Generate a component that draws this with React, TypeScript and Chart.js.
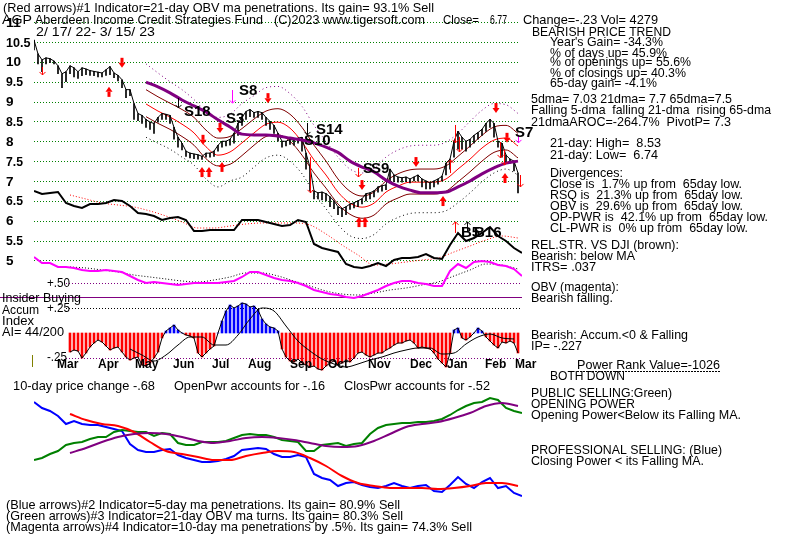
import React, { useEffect, useRef } from 'react';
import { Chart, registerables } from 'chart.js';
Chart.register(...registerables);

// x unit = one slot of about two trading days (2/17/22 .. 3/15/23)
const priceHigh = [10.55,10.2,10.05,10.1,10.08,10.02,9.9,9.7,9.75,9.9,
9.85,9.75,9.85,9.82,9.78,9.76,9.74,9.72,9.8,9.88,
9.72,9.66,9.55,9.3,9.3,8.95,8.7,8.65,8.55,8.48,
8.45,8.6,8.7,8.68,8.65,8.35,8.1,7.95,7.75,7.7,
7.68,7.66,7.62,7.7,7.7,7.75,7.9,8.0,8.0,8.05,
8.2,8.45,8.6,8.75,8.8,8.72,8.75,8.72,8.6,8.5,
8.4,8.2,8.0,8.0,8.05,8.02,8.08,8.1,7.7,7.35,
6.75,6.7,6.72,6.68,6.6,6.5,6.35,6.3,6.35,6.42,
6.45,6.5,6.55,6.68,6.7,6.75,6.85,6.88,6.9,7.3,
7.15,7.1,7.08,7.1,7.05,7.1,7.15,7.05,7.0,6.95,
7.0,7.05,7.12,7.45,7.55,8.0,8.25,8.1,8.0,8.05,
8.15,8.22,8.3,8.45,8.55,8.45,8.0,7.95,7.65,7.55,
7.5,7.2];
const priceLow = [10.3,9.95,9.75,9.95,9.98,9.95,9.7,9.35,9.5,9.7,
9.62,9.58,9.65,9.68,9.66,9.65,9.62,9.62,9.66,9.68,
9.6,9.52,9.35,9.1,9.15,8.55,8.52,8.45,8.35,8.3,
8.2,8.48,8.55,8.55,8.45,8.05,7.85,7.78,7.62,7.58,
7.56,7.55,7.54,7.6,7.6,7.62,7.75,7.85,7.88,7.9,
7.95,8.15,8.4,8.55,8.62,8.6,8.6,8.55,8.4,8.3,
8.2,8.0,7.85,7.88,7.92,7.9,7.95,7.75,7.3,6.75,
6.55,6.55,6.52,6.5,6.35,6.3,6.15,6.1,6.15,6.28,
6.32,6.35,6.42,6.5,6.55,6.6,6.72,6.74,6.78,6.95,
6.98,6.97,6.97,6.98,6.95,7.0,7.0,6.85,6.8,6.8,
6.85,6.92,7.0,7.15,7.3,7.6,7.8,7.8,7.75,7.85,
7.95,8.05,8.15,8.25,8.35,8.1,7.85,7.6,7.45,7.45,
7.25,6.7];

// moving-average bands (start slot 28, every 3 slots)
const ma21 = [8.94,8.76,8.61,8.43,8.21,7.86,7.65,7.73,7.96,8.21,8.43,8.48,8.33,7.98,7.53,7.15,6.72,6.44,6.34,6.44,6.72,6.87,6.97,6.97,6.97,7.05,7.3,7.55,7.83,8.03,8.08,7.88];
const bandUpper = [9.3,9.12,8.96,8.8,8.6,8.28,8.08,8.12,8.32,8.56,8.76,8.82,8.68,8.35,7.9,7.5,7.05,6.74,6.62,6.72,7.0,7.18,7.28,7.3,7.3,7.38,7.62,7.88,8.15,8.36,8.4,8.2];
const bandLower = [8.62,8.45,8.3,8.12,7.9,7.56,7.38,7.42,7.64,7.9,8.12,8.16,8.0,7.65,7.2,6.82,6.42,6.16,6.06,6.14,6.42,6.57,6.67,6.67,6.67,6.74,6.98,7.23,7.5,7.72,7.78,7.58];
const outerUpper = [9.95,9.72,9.5,9.3,9.05,8.75,8.6,8.68,8.95,9.15,9.35,9.38,9.2,8.88,8.4,8.0,7.6,7.3,7.2,7.32,7.6,7.78,7.88,7.9,7.9,7.98,8.2,8.5,8.78,8.95,8.92,8.7];
const outerLower = [8.1,7.95,7.8,7.6,7.4,7.05,6.85,7.0,7.1,7.35,7.58,7.65,7.5,7.18,6.7,6.3,5.9,5.62,5.55,5.65,5.92,6.08,6.18,6.2,6.2,6.25,6.45,6.7,6.98,7.2,7.3,7.15];
const ma65 = [9.49,9.37,9.22,9.04,8.89,8.74,8.54,8.36,8.18,8.16,8.16,8.13,8.08,8.03,7.96,7.85,7.72,7.5,7.35,7.23,7.02,6.87,6.77,6.7,6.7,6.72,6.85,7.0,7.18,7.33,7.45,7.5];

// relative strength vs DJI and OBV (every 2 slots from slot 0)
const relStr = [1.09,1.06,1.07,1.08,0.97,0.94,0.92,0.96,0.96,0.97,1.0,0.99,0.94,0.87,0.86,0.84,0.8,0.82,0.83,0.8,0.69,0.69,0.7,0.7,0.7,0.7,0.8,0.8,0.8,0.78,0.76,0.74,0.75,0.8,0.78,0.56,0.52,0.5,0.48,0.36,0.33,0.32,0.34,0.37,0.34,0.4,0.42,0.42,0.43,0.46,0.42,0.41,0.55,0.67,0.59,0.62,0.67,0.73,0.64,0.59,0.52,0.47];
const relStrMa = [1.05,1.01,0.97,0.95,0.93,0.89,0.84,0.78,0.72,0.72,0.74,0.76,0.77,0.77,0.77,0.75,0.66,0.55,0.45,0.35,0.36,0.38,0.4,0.42,0.48,0.54,0.6,0.64,0.62];
const obv = [0.43,0.37,0.37,0.33,0.33,0.32,0.3,0.29,0.29,0.3,0.29,0.28,0.24,0.2,0.17,0.18,0.17,0.16,0.15,0.16,0.17,0.17,0.17,0.17,0.18,0.19,0.23,0.28,0.28,0.25,0.22,0.2,0.19,0.17,0.14,0.1,0.08,0.06,0.05,0.03,0.02,0.04,0.07,0.1,0.14,0.17,0.19,0.19,0.17,0.16,0.14,0.14,0.29,0.36,0.32,0.38,0.39,0.38,0.35,0.34,0.31,0.24];
const obvMa = [0.33,0.32,0.3,0.28,0.25,0.23,0.21,0.19,0.18,0.2,0.23,0.27,0.27,0.24,0.19,0.14,0.09,0.06,0.05,0.07,0.1,0.12,0.15,0.18,0.24,0.3,0.36,0.35,0.31];

// accumulation index (from slot 9, every slot) and its MA (from slot 24, every 3)
const accum = [-0.19,-0.17,-0.18,-0.25,-0.2,-0.14,-0.1,-0.07,-0.09,-0.13,
-0.17,-0.15,-0.14,-0.19,-0.24,-0.27,-0.25,-0.24,-0.32,-0.33,
-0.3,-0.25,-0.19,-0.05,0.02,0.05,0.08,0.03,0.0,-0.02,
-0.03,-0.05,-0.2,-0.24,-0.2,-0.16,-0.13,0.0,0.12,0.22,
0.28,0.25,0.27,0.3,0.29,0.26,0.27,0.23,0.14,0.09,
0.06,0.05,0.02,-0.16,-0.24,-0.28,-0.29,-0.26,-0.3,-0.32,
-0.34,-0.33,-0.36,-0.37,-0.33,-0.3,-0.28,-0.32,-0.3,-0.27,
-0.29,-0.25,-0.2,-0.19,-0.22,-0.24,-0.22,-0.2,-0.2,-0.17,
-0.15,-0.12,-0.1,-0.1,-0.08,-0.07,-0.1,-0.15,-0.14,-0.15,
-0.16,-0.2,-0.26,-0.3,-0.34,-0.2,0.03,0.05,-0.05,-0.07,
-0.04,0.0,0.05,0.02,-0.04,-0.08,-0.12,-0.15,-0.09,-0.1,
-0.08,-0.1,-0.2];
const accumMa = [-0.16,-0.22,-0.28,-0.22,-0.12,-0.04,-0.04,-0.12,-0.12,-0.02,0.14,0.25,0.22,0.07,-0.08,-0.18,-0.26,-0.31,-0.34,-0.31,-0.27,-0.24,-0.2,-0.17,-0.15,-0.15,-0.21,-0.2,-0.11,-0.04,-0.01,-0.05,-0.06];
const insiderLevel = 0.36;
const accumLevels = [0.5, 0.25, -0.25];

// closing power (blue) / opening power (green), every 2 slots; MAs from slot 9 every 4
const closePwr = [9.8,9.2,8.9,8.4,7.6,7.9,7.6,7.5,7.5,7.3,7.1,6.9,5.6,5.0,4.8,4.8,5.0,5.1,4.5,4.2,4.0,3.8,3.8,3.9,4.1,4.4,5.0,5.1,5.2,5.1,4.6,4.3,4.3,4.5,4.3,2.6,2.2,2.0,1.4,1.7,1.8,1.5,1.3,1.2,1.4,1.7,1.4,1.2,1.4,1.5,0.9,0.8,1.5,2.3,1.6,1.2,1.8,2.2,1.2,1.4,0.7,0.4];
const closePwrMa = [8.6,8.0,7.6,7.4,6.8,5.8,4.9,4.6,4.3,4.0,4.0,4.4,4.7,4.9,4.8,4.2,3.4,2.4,1.7,1.4,1.2,1.2,1.2,1.1,1.2,1.4,1.7,1.7,1.4];
const openPwr = [4.0,4.2,4.6,4.9,5.5,5.7,5.8,6.1,6.3,6.3,6.8,7.0,6.9,6.8,6.8,6.4,6.7,6.6,5.7,5.5,5.5,5.8,5.8,5.8,5.9,6.2,6.5,6.6,6.5,6.5,6.3,6.0,5.9,5.8,4.9,4.9,5.5,5.6,5.7,5.4,5.6,5.7,6.6,7.2,7.5,7.6,7.7,7.7,7.8,7.8,7.9,8.1,8.5,9.0,9.4,9.7,9.8,10.2,10.0,9.2,8.9,8.7];
const openPwrMa = [4.7,5.2,5.8,6.3,6.6,6.7,6.6,6.3,5.9,5.7,5.9,6.2,6.3,6.2,6.0,5.7,5.4,5.3,5.4,5.9,6.6,7.3,7.6,7.8,8.2,8.7,9.4,9.7,9.4];

const priceTicks = [11, 10.5, 10, 9.5, 9, 8.5, 8, 7.5, 7, 6.5, 6, 5.5, 5];
const monthLabels = ['Mar','Apr','May','Jun','Jul','Aug','Sep','Oct','Nov','Dec','Jan','Feb','Mar'];
const monthSlots = [5.75, 16, 25.25, 34.75, 44.5, 53.5, 64, 73.5, 83.5, 94, 103.25, 112.75, 120.25];

// signal arrows: [slot, price at tip]
const redDownArrows = [[22,9.85],[42.25,7.91],[46.5,8.21],[58.5,8.96],[82,6.77],[95.5,7.35],[115.5,8.71],[118.25,7.96]];
const redUpArrows = [[18.75,9.37],[42,7.35],[43.75,7.35],[47,7.48],[81.25,6.09],[82.75,6.09],[102.25,6.62],[117.75,7.2]];
// thin arrows: [slot, from price, to price, colour]
const thinArrows: [number, number, number, string][] = [
  [2,9.87,9.67,'#ff0000'],[69,7.6,6.7,'#ff0000'],[81,7.33,7.1,'#ff0000'],[105.25,8.41,7.96,'#ff0000'],
  [106.25,8.11,7.73,'#ff0000'],[116.5,7.98,7.58,'#ff0000'],[117.5,7.78,7.4,'#ff0000'],[121.5,7.15,6.85,'#ff0000'],
  [104,7.2,7.53,'#ff0000'],[105.25,5.69,5.97,'#ff0000'],
  [49.5,9.29,8.96,'#ff00ff'],[121,8.16,7.96,'#ff00ff'],
  [36,9.09,8.84,'#000000'],[68.25,8.46,8.16,'#000000'],[108.25,5.71,5.97,'#000000'],
];
const signalLabels: [string, number, number][] = [
  ['S18',37.5,8.74],['S8',51.25,9.27],['S3',48,8.56],['S14',70.5,8.28],['S10',67.5,8.01],
  ['S',82.25,7.3],['S9',84.25,7.3],['S7',120.25,8.21],['B5',106.75,5.69],['B16',110,5.69],
];

const FONT = '13px "Liberation Sans", Arial, sans-serif';
// [text, left x, middle y, width]
const texts: [string, number, number, number][] = [
  ['(Red arrows)#1 Indicator=21-day OBV ma penetrations. Its gain= 93.1% Sell', 3, 8, 431],
  ['AGP', 2, 20, 30],
  ['Aberdeen Income Credit Strategies Fund', 35, 20, 228],
  ['(C)2023 www.tigersoft.com', 274, 20, 151],
  ['Close=', 443, 20, 36],
  ['6.77', 490, 20, 17],
  ['Change=-.23 Vol= 4279', 523, 20, 135],
  ['2/ 17/ 22- 3/ 15/ 23', 36, 32, 119],
  ['BEARISH PRICE TREND', 532, 32, 139],
  ["Year's Gain= -34.3%", 550, 42, 113],
  ['% of days up= 45.9%', 550, 53, 117],
  ['% of openings up= 55.6%', 550, 62, 141],
  ['% of closings up= 40.3%', 550, 73, 136],
  ['65-day gain= -4.1%', 550, 83, 107],
  ['5dma= 7.03 21dma= 7.7 65dma=7.5', 531, 99, 201],
  ['Falling 5-dma  falling 21-dma  rising 65-dma', 531, 110, 240],
  ['21dmaAROC=-264.7%  PivotP= 7.3', 531, 122, 200],
  ['21-day: High=  8.53', 550, 143, 111],
  ['21-day: Low=  6.74', 550, 155, 108],
  ['Divergences:', 550, 173, 73],
  ['Close is  1.7% up from  65day low.', 550, 184, 192],
  ['RSQ is  21.3% up from  65day low.', 550, 195, 193],
  ['OBV is  29.6% up from  65day low.', 550, 206, 193],
  ['OP-PWR is  42.1% up from  65day low.', 550, 217, 218],
  ['CL-PWR is  0% up from  65day low.', 550, 228, 198],
  ['REL.STR. VS DJI (brown):', 531, 245, 148],
  ['Bearish: below MA', 531, 256, 104],
  ['ITRS= .037', 531, 267, 65],
  ['OBV (magenta):', 531, 287, 88],
  ['Bearish falling.', 531, 298, 82],
  ['Bearish: Accum.<0 & Falling', 531, 335, 157],
  ['IP= -.227', 531, 346, 51],
  ['Power Rank Value=-1026', 577, 365, 143],
  ['BOTH DOWN', 550, 376, 75],
  ['PUBLIC SELLING:Green)', 531, 393, 141],
  ['OPENING POWER', 531, 404, 104],
  ['Opening Power<Below its Falling MA.', 531, 415, 210],
  ['PROFESSIONAL SELLING: (Blue)', 531, 450, 191],
  ['Closing Power < its Falling MA.', 531, 461, 173],
  ['Insider Buying', 2, 298, 79],
  ['Accum', 2, 310, 37],
  ['Index', 2, 321, 32],
  ['AI= 44/200', 2, 332, 62],
  ['+.50', 47, 283, 23],
  ['+.25', 47, 308, 23],
  ['-.25', 47, 357, 20],
  ['10-day price change -.68', 13, 386, 142],
  ['OpenPwr accounts for -.16', 174, 386, 151],
  ['ClosPwr accounts for -.52', 344, 386, 146],
  ['(Blue arrows)#2 Indicator=5-day ma penetrations. Its gain= 80.9% Sell', 6, 505, 394],
  ['(Green arrows)#3 Indicator=21-day OBV ma turns. Its gain= 80.3% Sell', 6, 516, 397],
  ['(Magenta arrows)#4 Indicator=10-day ma penetrations by .5%. Its gain= 74.3% Sell', 6, 527, 466],
];

const pts = (arr: number[], start: number, step: number) => arr.map((v, i) => ({ x: start + i * step, y: v }));

function drawText(ctx: CanvasRenderingContext2D, s: string, x: number, y: number, w: number, font = FONT, color = '#000') {
  ctx.save();
  ctx.font = font;
  ctx.fillStyle = color;
  ctx.textBaseline = 'middle';
  ctx.textAlign = 'left';
  const m = ctx.measureText(s).width;
  ctx.translate(x, y);
  if (w && m > 0) ctx.scale(w / m, 1);
  ctx.fillText(s, 0, 0);
  ctx.restore();
}

function thickArrow(ctx: CanvasRenderingContext2D, x: number, tip: number, dir: number) {
  const len = 10, head = 5, hw = 3.5;
  const tail = tip - dir * len;
  const neck = tip - dir * head;
  ctx.fillStyle = '#ff0000';
  ctx.fillRect(x - 1.5, Math.min(tail, neck), 3, Math.abs(neck - tail));
  ctx.beginPath();
  ctx.moveTo(x - hw, neck);
  ctx.lineTo(x + hw, neck);
  ctx.lineTo(x, tip);
  ctx.closePath();
  ctx.fill();
}

function thinArrow(ctx: CanvasRenderingContext2D, x: number, y0: number, y1: number, color: string) {
  const dir = y1 > y0 ? 1 : -1;
  ctx.strokeStyle = color;
  ctx.lineWidth = 1;
  ctx.beginPath();
  ctx.moveTo(x + 0.5, y0);
  ctx.lineTo(x + 0.5, y1);
  ctx.moveTo(x - 2.5, y1 - dir * 3);
  ctx.lineTo(x + 0.5, y1);
  ctx.lineTo(x + 3.5, y1 - dir * 3);
  ctx.stroke();
}

function hline(ctx: CanvasRenderingContext2D, x0: number, x1: number, y: number, color: string, dash: number[]) {
  ctx.save();
  ctx.strokeStyle = color;
  ctx.lineWidth = 1;
  ctx.setLineDash(dash);
  ctx.beginPath();
  ctx.moveTo(x0, Math.round(y) + 0.5);
  ctx.lineTo(x1, Math.round(y) + 0.5);
  ctx.stroke();
  ctx.restore();
}

const decor = {
  id: 'decor',
  beforeDraw(chart: any) {
    const ctx = chart.ctx;
    ctx.save();
    ctx.fillStyle = '#ffffff';
    ctx.fillRect(0, 0, chart.width, chart.height);
    ctx.restore();
  },
  beforeDatasetsDraw(chart: any) {
    const ctx = chart.ctx;
    const yP = chart.scales.yP, yA = chart.scales.yA, x = chart.scales.x;
    const left = chart.chartArea.left, right = chart.chartArea.right;
    priceTicks.forEach((t) => hline(ctx, left, right - 2, yP.getPixelForValue(t), '#008000', [1, 2]));
    const ax0 = x.getPixelForValue(8);
    hline(ctx, ax0, right, yA.getPixelForValue(accumLevels[0]), '#800080', [1, 2]);
    hline(ctx, ax0, right, yA.getPixelForValue(accumLevels[1]), '#000000', [1, 2]);
    hline(ctx, ax0, right, yA.getPixelForValue(accumLevels[2]), '#800080', [1, 2]);
    hline(ctx, 0, right, yA.getPixelForValue(insiderLevel), '#800080', []);
  },
  afterDraw(chart: any) {
    const ctx = chart.ctx;
    const yP = chart.scales.yP, yA = chart.scales.yA, x = chart.scales.x;
    ctx.save();
    priceTicks.forEach((t) => {
      const s = String(t);
      const w = s.replace('.', '').length * 7.5 + (s.includes('.') ? 2 : 0);
      drawText(ctx, s, 6, yP.getPixelForValue(t) + 1, w, 'bold 13px "Liberation Sans", Arial');
    });
    texts.forEach(([s, tx, ty, w]) => drawText(ctx, s, tx, ty, w));
    monthLabels.forEach((m, i) => drawText(ctx, m, x.getPixelForValue(monthSlots[i]), yA.getPixelForValue(-0.32), 0, 'bold 12px "Liberation Sans", Arial'));
    redDownArrows.forEach(([s, v]) => thickArrow(ctx, x.getPixelForValue(s), yP.getPixelForValue(v), 1));
    redUpArrows.forEach(([s, v]) => thickArrow(ctx, x.getPixelForValue(s), yP.getPixelForValue(v), -1));
    thinArrows.forEach(([s, a, b, c]) => thinArrow(ctx, Math.round(x.getPixelForValue(s)), yP.getPixelForValue(a), yP.getPixelForValue(b), c));
    signalLabels.forEach(([s, sl, v]) => drawText(ctx, s, x.getPixelForValue(sl), yP.getPixelForValue(v), 0, 'bold 15px "Liberation Sans", Arial'));
    hline(ctx, 577, 720, 371, '#000000', [2, 1]);
    ctx.strokeStyle = '#808000';
    ctx.beginPath();
    ctx.moveTo(32.5, 355);
    ctx.lineTo(32.5, 367);
    ctx.stroke();
    ctx.restore();
  },
};

export default function App() {
  const ref = useRef<HTMLCanvasElement>(null);
  useEffect(() => {
    if (!ref.current) return;
    const line = (data: any[], yAxisID: string, color: string, width: number, dash: number[] = [], order = 1, smooth = false) => ({
      type: 'line' as const, data, yAxisID, xAxisID: 'x', borderColor: color, borderWidth: width, borderDash: dash,
      pointRadius: 0, fill: false, tension: smooth ? 0.4 : 0, cubicInterpolationMode: smooth ? 'monotone' : 'default', order,
    });
    const chart = new Chart(ref.current, {
      type: 'bar',
      data: {
        datasets: [
          line(pts(ma65, 28, 3), 'yP', '#800080', 3, [], 2, true),
          line(pts(priceHigh, 0, 1), 'yP', '#000000', 1, [], 3),
          { type: 'bar', data: priceHigh.map((h, i) => ({ x: i, y: [priceLow[i], h] })), yAxisID: 'yP', xAxisID: 'x',
            backgroundColor: '#000000', barThickness: 1, grouped: false, borderWidth: 0, order: 3 } as any,
          line(pts(ma21, 28, 3), 'yP', '#ff0000', 1, [], 4, true),
          line(pts(bandUpper, 28, 3), 'yP', '#800000', 1, [], 4, true),
          line(pts(bandLower, 28, 3), 'yP', '#800000', 1, [], 4, true),
          line(pts(outerUpper, 28, 3), 'yP', '#800080', 1, [1, 3], 4, true),
          line(pts(outerLower, 28, 3), 'yP', '#000000', 1, [1, 3], 4, true),
          line(pts(relStr, 0, 2), 'yI', '#000000', 2, [], 2),
          line(pts(relStrMa, 9, 4), 'yI', '#ff0000', 1, [1, 2], 4, true),
          line(pts(obv, 0, 2), 'yI', '#ff00ff', 2, [], 2),
          line(pts(obvMa, 9, 4), 'yI', '#000000', 1, [1, 2], 4, true),
          line(pts(accum, 9, 1), 'yA', '#000000', 1, [], 1),
          line(pts(accumMa, 24, 3), 'yA', '#000000', 1, [], 1, true),
          { type: 'bar', data: pts(accum, 9, 1), yAxisID: 'yA', xAxisID: 'x',
            backgroundColor: accum.map((v) => (v >= 0 ? '#0000ff' : '#ff0000')), barThickness: 2, grouped: false, borderWidth: 0, order: 5 } as any,
          line(pts(openPwrMa, 9, 4), 'yW', '#800080', 2, [], 2, true),
          line(pts(openPwr, 0, 2), 'yW', '#008000', 2, [], 3),
          line(pts(closePwrMa, 9, 4), 'yW', '#ff0000', 2, [], 2, true),
          line(pts(closePwr, 0, 2), 'yW', '#0000ff', 2, [], 3),
        ] as any,
      },
      options: {
        responsive: false,
        maintainAspectRatio: false,
        devicePixelRatio: 1,
        animation: false,
        events: [],
        layout: { padding: { left: 34, right: 278, top: 0, bottom: 0 } },
        plugins: { legend: { display: false }, tooltip: { enabled: false } },
        scales: {
          x: { type: 'linear', min: 0, max: 122, display: false, offset: false },
          yP: { type: 'linear', min: -1.943, max: 11.558, display: false },
          yA: { type: 'linear', min: -2.03, max: 3.33, display: false },
          yI: { type: 'linear', min: -2.36, max: 3.0, display: false },
          yW: { type: 'linear', min: -3.6, max: 50, display: false },
        },
      },
      plugins: [decor],
    });
    return () => chart.destroy();
  }, []);
  return (
    <div style={{ position: 'absolute', left: 0, top: 0, width: 800, height: 536, background: '#fff' }}>
      <canvas ref={ref} width={800} height={536} style={{ display: 'block' }} />
    </div>
  );
}
